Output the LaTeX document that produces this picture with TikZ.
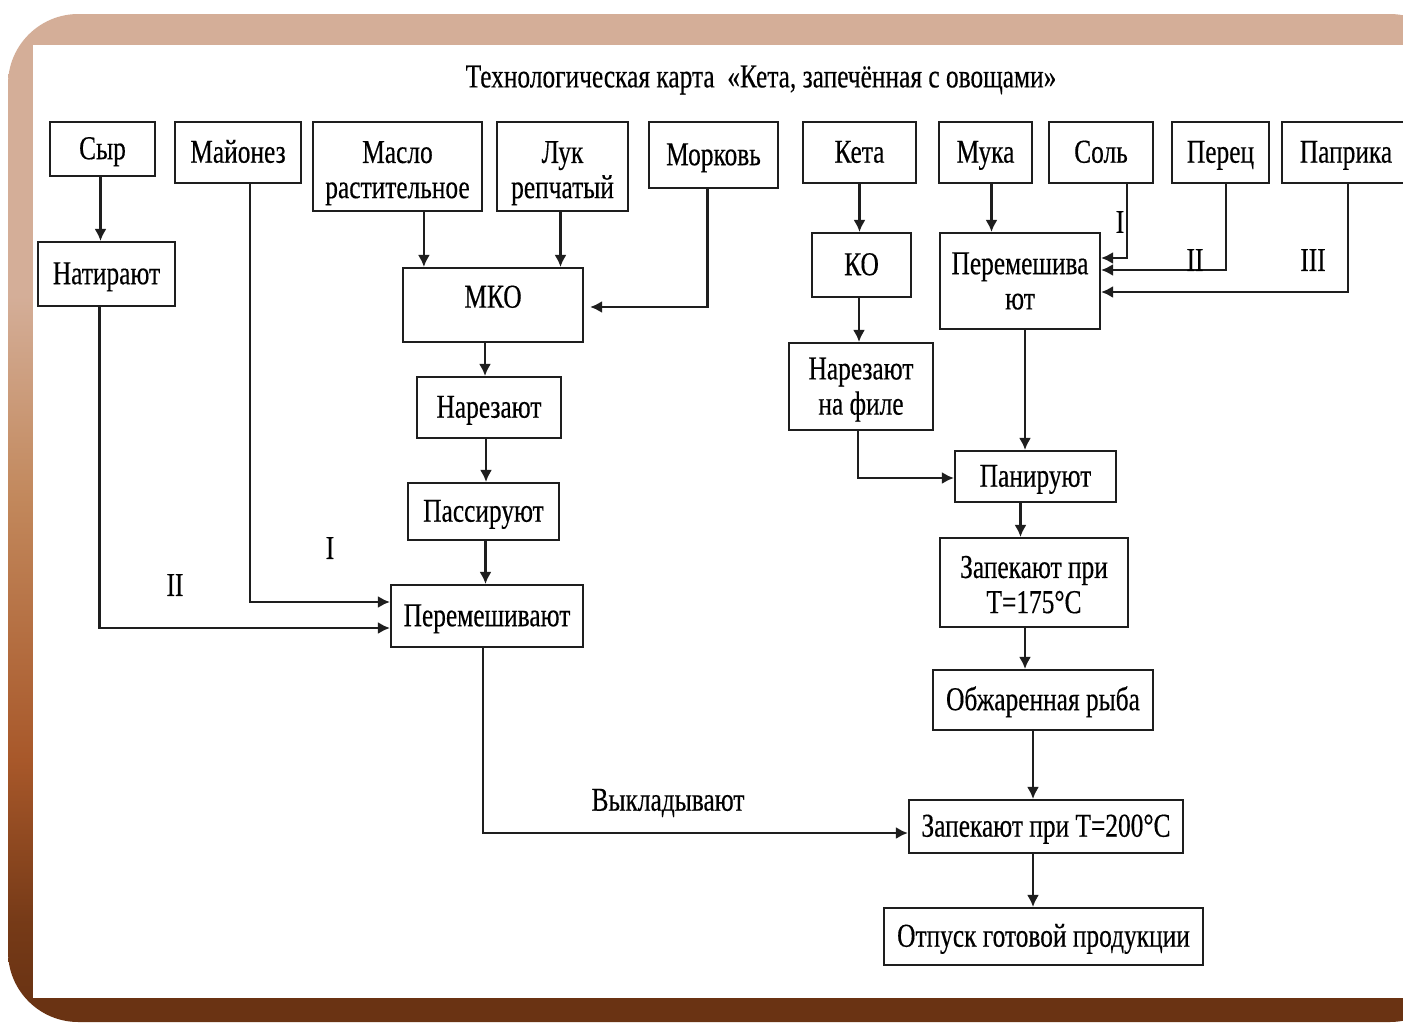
\documentclass[tikz,border=0pt]{standalone}
\usepackage{fontspec}
\setmainfont{Liberation Serif}[FakeStretch=0.76, FakeBold=0.35]
\usepackage{tikz}
\usetikzlibrary{calc,arrows.meta}
\definecolor{frametop}{HTML}{D4AE98}
\definecolor{framemid}{HTML}{C2885C}
\definecolor{framelow}{HTML}{A8582A}
\definecolor{framebot}{HTML}{6A3313}
\definecolor{inkdark}{HTML}{1E1E1E}
% the path fills the middle 50bp of the shading
\pgfdeclareverticalshading{frameshade}{100bp}{color(0bp)=(framebot); color(26bp)=(framebot);
  color(30bp)=(framebot!80!framelow); color(38bp)=(framelow); color(51bp)=(framemid);
  color(61bp)=(frametop); color(100bp)=(frametop)}
\tikzset{
  box/.style={draw=inkdark, line width=0.6pt, fill=white, align=center, inner sep=1pt,
    font=\fontsize{9.5}{10}\selectfont},
  tbox/.style={box, text height=6.9pt, text depth=1.1pt},
  arr/.style={draw=inkdark, line width=0.6pt, -{Latex[length=3.4pt,width=3.4pt]}},
  lbl/.style={font=\fontsize{9.5}{10}\selectfont, inner sep=0pt}
}

\begin{document}
\begin{tikzpicture}[x=0.01cm, y=-0.01cm]
  \clip (0,0) rectangle (1403,1024);
  % frame
  \fill[white] (0,0) rectangle (1403,1024);
  \shade[shading=frameshade, rounded corners=20] (8,14) rectangle (1460,1022);
  \fill[white] (33,45) rectangle (1403,998);

  \node[lbl] (title) at (761,80)
    {Технологическая карта \ «Кета, запечённая с овощами»};

  % top row
  \node[tbox, minimum width=1.05cm, minimum height=0.54cm] (syr) at (102.5,149) {Сыр};
  \node[tbox, minimum width=1.26cm, minimum height=0.61cm] (mayo) at (238,152.5) {Майонез};
  \node[box, minimum width=1.69cm, minimum height=0.89cm] (maslo) at (397.5,166.5) {\rule{0pt}{10pt}Масло\\растительное};
  \node[box, minimum width=1.31cm, minimum height=0.89cm] (luk) at (562.5,166.5) {\rule{0pt}{10pt}Лук\\репчатый};
  \node[tbox, minimum width=1.29cm, minimum height=0.66cm] (mork) at (713.5,155) {Морковь};
  \node[tbox, minimum width=1.13cm, minimum height=0.61cm] (keta) at (859.5,152.5) {Кета};
  \node[tbox, minimum width=0.93cm, minimum height=0.61cm] (muka) at (985.5,152.5) {Мука};
  \node[tbox, minimum width=1.04cm, minimum height=0.61cm] (sol) at (1101,152.5) {Соль};
  \node[tbox, minimum width=0.97cm, minimum height=0.61cm] (perec) at (1220.5,152.5) {Перец};
  \node[tbox, minimum width=1.28cm, minimum height=0.61cm] (papr) at (1346,152.5) {Паприка};

  % left branch
  \node[tbox, minimum width=1.37cm, minimum height=0.64cm] (nat) at (106.5,274) {Натирают};
  \node[box, text height=6.5pt, text depth=5pt, minimum width=1.80cm, minimum height=0.74cm] (mko) at (493,305) {МКО};
  \node[tbox, minimum width=1.44cm, minimum height=0.61cm] (rez) at (489,407.5) {Нарезают};
  \node[tbox, minimum width=1.51cm, minimum height=0.57cm] (pas) at (483.5,511.5) {Пассируют};
  \node[tbox, minimum width=1.92cm, minimum height=0.62cm] (mixL) at (487,616) {Перемешивают};

  % right branch
  \node[tbox, minimum width=0.99cm, minimum height=0.64cm] (ko) at (861.5,265) {КО};
  \node[box, minimum width=1.60cm, minimum height=0.96cm] (mixR) at (1020,281) {Перемешива\\ют};
  \node[box, minimum width=1.44cm, minimum height=0.87cm] (file) at (861,386.5) {\rule{0pt}{8pt}Нарезают\\на филе};
  \node[tbox, minimum width=1.61cm, minimum height=0.51cm] (pan) at (1035.5,476.5) {Панируют};
  \node[box, minimum width=1.88cm, minimum height=0.89cm] (bake1) at (1034,582.5) {\rule{0pt}{7.5pt}Запекают при\\Т=175°С};
  \node[tbox, minimum width=2.20cm, minimum height=0.60cm] (fried) at (1043,700) {Обжаренная рыба};
  \node[tbox, minimum width=2.74cm, minimum height=0.53cm] (bake2) at (1046,826.5) {Запекают при Т=200°С};
  \node[tbox, minimum width=3.19cm, minimum height=0.57cm] (out) at (1043.5,936.5) {Отпуск готовой продукции};

  % connectors, left
  \draw[arr] ([xshift=-0.02cm]syr.south) -- ([xshift=-0.02cm]syr.south |- nat.north);
  \draw[arr] ([xshift=0.22cm]mko.north west |- maslo.south) -- ([xshift=0.22cm]mko.north west);
  \draw[arr] ([xshift=-0.02cm]luk.south) -- ([xshift=-0.02cm]luk.south |- mko.north);
  \draw[arr] ([xshift=-0.06cm]mork.south) |- ([xshift=0.06cm,yshift=-0.02cm]mko.east);
  \draw[arr] ([xshift=-0.04cm]rez.north |- mko.south) -- ([xshift=-0.04cm]rez.north);
  \draw[arr] ([xshift=-0.03cm]rez.south) -- ([xshift=-0.03cm]rez.south |- pas.north);
  \draw[arr] ([xshift=0.02cm]pas.south) -- ([xshift=0.02cm]pas.south |- mixL.north);
  \draw[arr] ([xshift=0.12cm]mayo.south) |- ([yshift=0.14cm]mixL.west);
  \draw[arr] ([xshift=-0.07cm]nat.south) |- ([yshift=-0.12cm]mixL.west);
  \draw[arr] ([xshift=-0.04cm]mixL.south) |- ([yshift=-0.065cm]bake2.west);
  \node[lbl] (lblI) at (330,548) {I};
  \node[lbl] (lblII) at (175,585) {II};
  \node[lbl] (lay) at (668,803) {Выкладывают};

  % connectors, right
  \draw[arr] (keta.south) -- (keta.south |- ko.north);
  \draw[arr] ([xshift=0.06cm]muka.south) -- ([xshift=0.06cm]muka.south |- mixR.north);
  \draw[arr] ([xshift=0.26cm]sol.south) |- ([yshift=0.23cm]mixR.east);
  \draw[arr] ([xshift=0.055cm]perec.south) |- ([yshift=0.11cm]mixR.east);
  \draw[arr] ([xshift=0.02cm]papr.south) |- ([yshift=-0.11cm]mixR.east);
  \node[lbl] (lblsol) at (1120,222) {I};
  \node[lbl] (lblper) at (1195,260) {II};
  \node[lbl] (lblpap) at (1313,260) {III};
  \draw[arr] ([xshift=-0.025cm]ko.south) -- ([xshift=-0.025cm]ko.south |- file.north);
  \draw[arr] ([xshift=-0.03cm]file.south) |- ([yshift=-0.015cm]pan.west);
  \draw[arr] ([xshift=0.05cm]mixR.south) -- ([xshift=0.05cm]mixR.south |- pan.north);
  \draw[arr] ([xshift=-0.15cm]pan.south) -- ([xshift=-0.15cm]pan.south |- bake1.north);
  \draw[arr] ([xshift=-0.09cm]bake1.south) -- ([xshift=-0.09cm]bake1.south |- fried.north);
  \draw[arr] ([xshift=-0.10cm]fried.south) -- ([xshift=-0.10cm]fried.south |- bake2.north);
  \draw[arr] ([xshift=-0.13cm]bake2.south) -- ([xshift=-0.13cm]bake2.south |- out.north);
\end{tikzpicture}
\end{document}
